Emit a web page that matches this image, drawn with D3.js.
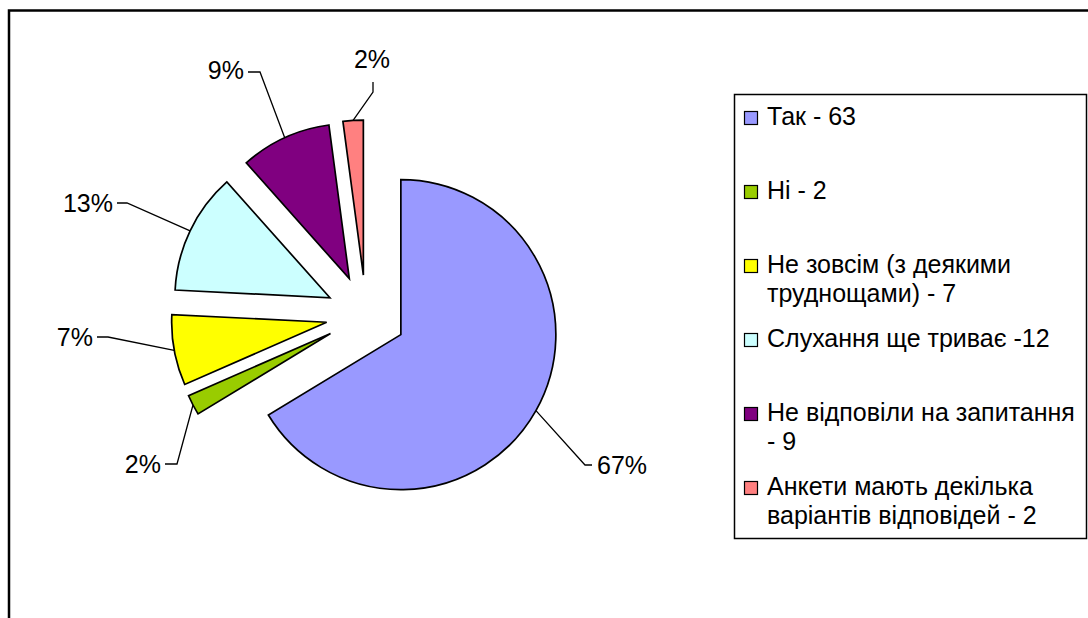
<!DOCTYPE html>
<html>
<head>
<meta charset="utf-8">
<script src="https://cdn.jsdelivr.net/npm/d3@7"></script>
<style>
  html, body { margin: 0; padding: 0; background: #fff; }
  svg { display: block; font-family: "Liberation Sans", Arial, sans-serif; }
</style>
</head>
<body>
<svg id="chart" width="1088" height="618"></svg>
<script>
// ---- data ----
const categories = ["Так - 63", "Ні - 2", "Не зовсім (з деякими трудніщами) - 7", "Слухання ще триває -12", "Не відповіли на запитання - 9", "Анкети мають декілька варіантів відповідей - 2"];
const legendLines = [
  ["Так - 63"],
  ["Ні - 2"],
  ["Не зовсім (з деякими", "трудн\u043eщами) - 7"],
  ["Слухання ще триває -12"],
  ["Не відповіли на запитання", "- 9"],
  ["Анкети мають декілька", "варіантів відповідей - 2"]
];
const values = [63, 2, 7, 12, 9, 2];
const percentLabels = ["67%", "2%", "7%", "13%", "9%", "2%"];
const colors = ["#9999FF", "#99CC00", "#FFFF00", "#CCFFFF", "#800080", "#FF8080"];

// ---- layout ----
const W = 1088, H = 618;
const cx = 366, cy = 315, R = 155, explode = 40;
const FS = 25;
// label anchor layout: elbow point, end of horizontal tick, text anchor
const labelLayout = [
  { elbow: [585, 465], tick: [592, 465], text: [597, 474], anchor: "start" },
  { elbow: [177, 464], tick: [165, 464], text: [161, 473], anchor: "end" },
  { elbow: [108, 337], tick: [97, 337], text: [93, 346], anchor: "end" },
  { elbow: [127, 203], tick: [117, 203], text: [113, 212], anchor: "end" },
  { elbow: [260, 72], tick: [248, 72], text: [244, 79], anchor: "end" },
  { elbow: [373, 92], tick: [373, 82], text: [372, 68], anchor: "middle" }
];

const svg = d3.select("#chart");
svg.append("rect").attr("width", W).attr("height", H).attr("fill", "#fff");

// outer frame
svg.append("rect").attr("x", 9).attr("y", 10.5).attr("width", 1200).attr("height", 800)
  .attr("fill", "none").attr("stroke", "#000").attr("stroke-width", 2.5);

const pie = d3.pie().sort(null).value(d => d).startAngle(0).endAngle(2 * Math.PI);
const arcs = pie(values);
const arcGen = d3.arc().innerRadius(0).outerRadius(R);

const g = svg.append("g").attr("transform", `translate(${cx},${cy})`);

function offset(d, dist) {
  const mid = (d.startAngle + d.endAngle) / 2;
  return [dist * Math.sin(mid), -dist * Math.cos(mid)];
}

g.selectAll("path.slice").data(arcs).enter().append("path")
  .attr("class", "slice")
  .attr("d", arcGen)
  .attr("transform", d => { const o = offset(d, explode); return `translate(${o[0]},${o[1]})`; })
  .attr("fill", (d, i) => colors[i])
  .attr("stroke", "#000")
  .attr("stroke-width", 1.7)
  .attr("stroke-linejoin", "miter");

// leader lines + labels
arcs.forEach((d, i) => {
  const o = offset(d, explode);
  const p = offset(d, R);
  const ax = cx + o[0] + p[0], ay = cy + o[1] + p[1];
  const L = labelLayout[i];
  svg.append("polyline")
    .attr("points", [[ax, ay], L.elbow, L.tick].map(q => q.join(",")).join(" "))
    .attr("fill", "none").attr("stroke", "#000").attr("stroke-width", 1.3);
  svg.append("text")
    .attr("x", L.text[0]).attr("y", L.text[1])
    .attr("text-anchor", L.anchor)
    .attr("font-size", FS).attr("fill", "#000")
    .text(percentLabels[i]);
});

// legend
const lg = { x: 734.5, y: 94.5, w: 352, h: 444, firstBase: 125, step: 74, lineH: 28.5 };
svg.append("rect").attr("x", lg.x).attr("y", lg.y).attr("width", lg.w).attr("height", lg.h)
  .attr("fill", "#fff").attr("stroke", "#000").attr("stroke-width", 1.5);

legendLines.forEach((lines, i) => {
  const base = lg.firstBase + i * lg.step;
  svg.append("rect").attr("x", 744.5).attr("y", base - 13.5).attr("width", 13).attr("height", 13)
    .attr("fill", colors[i]).attr("stroke", "#000").attr("stroke-width", 1.2);
  const t = svg.append("text").attr("x", 767).attr("y", base).attr("font-size", FS).attr("fill", "#000");
  lines.forEach((ln, j) => {
    t.append("tspan").attr("x", 767).attr("y", base + j * lg.lineH).text(ln);
  });
});
</script>
</body>
</html>
